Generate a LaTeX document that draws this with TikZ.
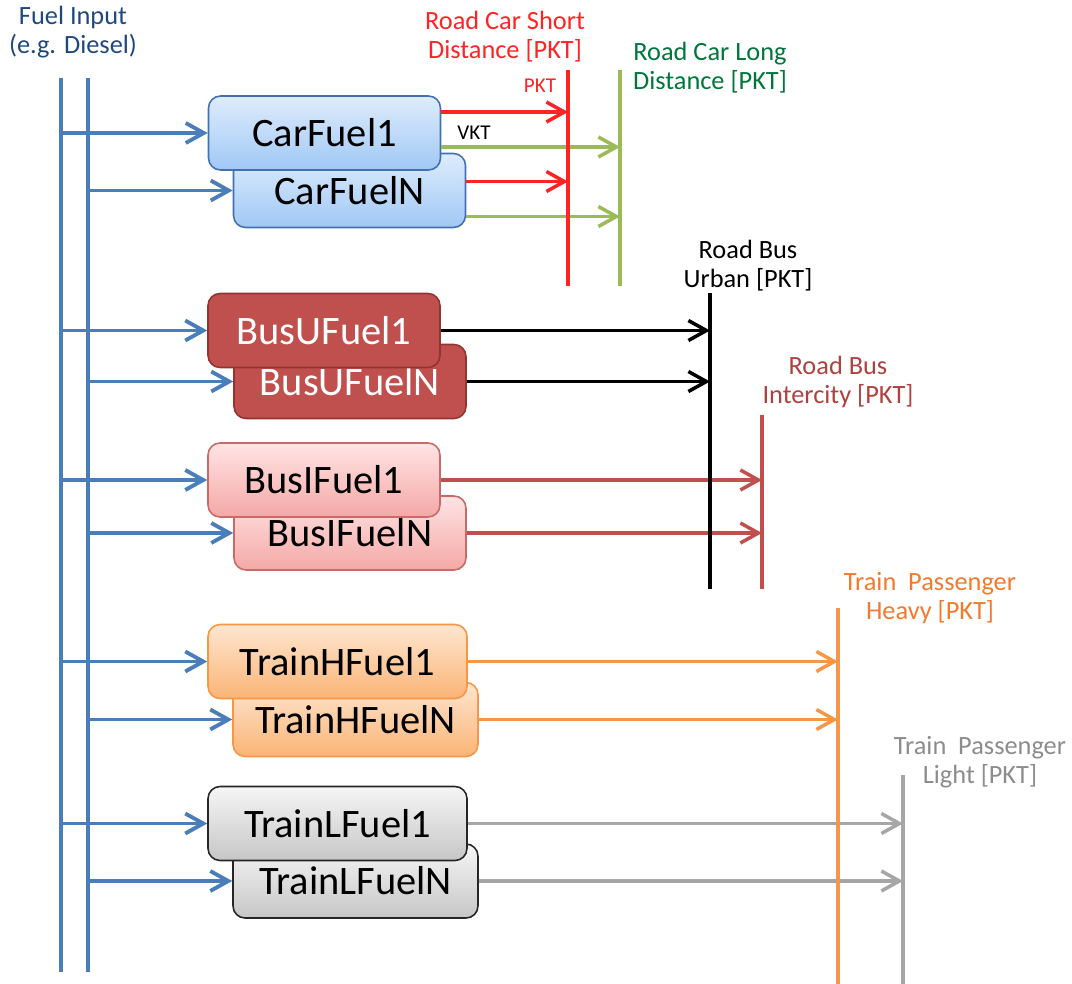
\documentclass[tikz,border=0pt]{standalone}
\usepackage{fontspec}
\setmainfont{Carlito}
\usetikzlibrary{arrows.meta,calc,positioning}
\definecolor{inblue}{RGB}{74,126,187}
\definecolor{indark}{RGB}{31,73,125}
\definecolor{carred}{RGB}{255,35,35}
\definecolor{cargreen}{RGB}{155,187,89}
\definecolor{cargreentxt}{RGB}{0,118,58}
\definecolor{carborder}{RGB}{65,113,175}
\definecolor{cartop}{RGB}{222,236,252}
\definecolor{carbot}{RGB}{160,200,245}
\definecolor{busred}{RGB}{192,80,77}
\definecolor{busborder}{RGB}{145,52,50}
\definecolor{busredtxt}{RGB}{175,65,62}
\definecolor{busitop}{RGB}{255,228,228}
\definecolor{busibot}{RGB}{244,168,166}
\definecolor{trainorange}{RGB}{247,150,70}
\definecolor{trainorangetxt}{RGB}{242,122,44}
\definecolor{trainhtop}{RGB}{254,230,208}
\definecolor{trainhbot}{RGB}{250,180,118}
\definecolor{traingrey}{RGB}{166,166,166}
\definecolor{traingreytxt}{RGB}{140,140,140}
\definecolor{trainltop}{RGB}{246,246,246}
\definecolor{trainlbot}{RGB}{198,198,198}

\begin{document}
\begin{tikzpicture}[x=0.02cm, y=-0.02cm,
    fuelbox/.style={draw, rounded corners=2.4mm, line width=0.9pt, inner sep=0pt,
        minimum width=4.64cm, minimum height=1.48cm, font=\fontsize{23}{26}\selectfont},
    carbox/.style={fuelbox, draw=carborder, top color=cartop, bottom color=carbot},
    busubox/.style={fuelbox, draw=busborder, fill=busred, text=white},
    busibox/.style={fuelbox, draw=busred!85, top color=busitop, bottom color=busibot},
    trainhbox/.style={fuelbox, draw=trainorange, top color=trainhtop, bottom color=trainhbot},
    trainlbox/.style={fuelbox, draw=black!85, top color=trainltop, bottom color=trainlbot},
    lbl/.style={align=center, font=\fontsize{15}{16.5}\selectfont},
    tag/.style={font=\fontsize{12}{14}\selectfont},
    inarr/.style={-{Straight Barb[length=3.6mm, width=4mm]}, inblue, line width=2.2pt},
    outarr/.style={-{Straight Barb[length=3.6mm, width=4mm]}, #1, line width=2pt},
    bar/.style={#1, line width=2.4pt}]

    \useasboundingbox (0,0) rectangle (1072,984);

    % Labels
    \node[lbl, text=indark] (fuel) at (73,32) {Fuel Input\\(e.g. Diesel)};
    \node[lbl, text=carred] (rcs) at (505,37) {Road Car Short\\Distance [PKT]};
    \node[lbl, text=cargreentxt] (rcl) at (710,68) {Road Car Long\\Distance [PKT]};
    \node[lbl] (rbu) at (748,266) {Road Bus\\Urban [PKT]};
    \node[lbl, text=busredtxt] (rbi) at (838,382) {Road Bus\\Intercity [PKT]};
    \node[lbl, text=trainorangetxt] (tph) at (930,598) {Train~~Passenger\\Heavy [PKT]};
    \node[lbl, text=traingreytxt] (tpl) at (980,762) {Train~~Passenger\\Light [PKT]};
    \node[tag, text=carred] (pkt) at (540,86) {PKT};
    \node[tag] (vkt) at (474,133) {VKT};

    % Bars
    \coordinate (fa top) at (61,78);   \coordinate (fa bot) at (61,972);
    \coordinate (fb top) at (88,78);   \coordinate (fb bot) at (88,972);
    \coordinate (rcs top) at (568,70); \coordinate (rcs bot) at (568,286);
    \coordinate (rcl top) at (620,70); \coordinate (rcl bot) at (620,286);
    \coordinate (rbu top) at (710,293); \coordinate (rbu bot) at (710,589);
    \coordinate (rbi top) at (762,415); \coordinate (rbi bot) at (762,589);
    \coordinate (tph top) at (838,608); \coordinate (tph bot) at (838,984);
    \coordinate (tpl top) at (903,775); \coordinate (tpl bot) at (903,984);

    % Fuel boxes (N behind 1)
    \node[carbox] (carN) at (349.5,190.5) {CarFuelN};
    \node[carbox] (car1) at (324.5,133) {CarFuel1};
    \node[busubox] (busuN) at (350,381.5) {BusUFuelN};
    \node[busubox] (busu1) at (324,330.5) {BusUFuel1};
    \node[busibox] (busiN) at (350,533) {BusIFuelN};
    \node[busibox] (busi1) at (324,480) {BusIFuel1};
    \node[trainhbox, minimum width=4.9cm] (trainhN) at (355.5,719.5) {TrainHFuelN};
    \node[trainhbox, minimum width=5.18cm] (trainh1) at (337.5,661.5) {TrainHFuel1};
    \node[trainlbox, minimum width=4.9cm] (trainlN) at (355.5,881) {TrainLFuelN};
    \node[trainlbox, minimum width=5.18cm] (trainl1) at (337.5,823.5) {TrainLFuel1};

    % Fuel input arrows
    \foreach \b in {car1,busu1,busi1,trainh1,trainl1} {
        \draw[inarr] (fa top |- \b) -- (\b);
    }
    \foreach \b in {carN,busuN,busiN,trainhN,trainlN} {
        \draw[inarr] (fb top |- \b) -- (\b);
    }

    % Car outputs
    \coordinate (c1r) at ($(car1.east)+(0,-21)$);
    \coordinate (c1g) at ($(car1.east)+(0,14)$);
    \coordinate (cNr) at ($(carN.east)+(0,-9)$);
    \coordinate (cNg) at ($(carN.east)+(0,26)$);
    \draw[outarr=carred] (c1r) -- (c1r -| rcs top);
    \draw[outarr=cargreen] (c1g) -- (c1g -| rcl top);
    \draw[outarr=carred] (cNr) -- (cNr -| rcs top);
    \draw[outarr=cargreen] (cNg) -- (cNg -| rcl top);

    % Bus and train outputs
    \foreach \b/\t/\c in {busu1/rbu/black, busuN/rbu/black, busi1/rbi/busred, busiN/rbi/busred,
        trainh1/tph/trainorange, trainhN/tph/trainorange, trainl1/tpl/traingrey, trainlN/tpl/traingrey} {
        \draw[outarr=\c] (\b.east) -- (\b.east -| \t\space top);
    }

    % Bars on top
    \draw[bar=inblue] (fa top) -- (fa bot);
    \draw[bar=inblue] (fb top) -- (fb bot);
    \draw[bar=carred] (rcs top) -- (rcs bot);
    \draw[bar=cargreen] (rcl top) -- (rcl bot);
    \draw[bar=black] (rbu top) -- (rbu bot);
    \draw[bar=busred] (rbi top) -- (rbi bot);
    \draw[bar=trainorange] (tph top) -- (tph bot);
    \draw[bar=traingrey] (tpl top) -- (tpl bot);
\end{tikzpicture}
\end{document}
